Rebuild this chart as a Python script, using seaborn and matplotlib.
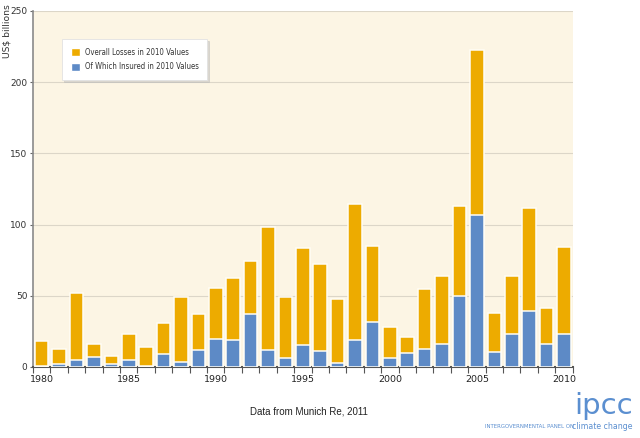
import matplotlib
matplotlib.use("Agg")
import matplotlib.pyplot as plt
from matplotlib.patches import Patch
from matplotlib.font_manager import FontProperties
import seaborn as sns
import pandas as pd
import numpy as np

years = list(range(1980, 2011))
overall = [18, 12.6, 52, 16.4, 7.7, 23.4, 13.8, 31, 49.5, 37.4,
           55.6, 62.6, 74.5, 98.1, 49.3, 83.6, 72.2, 47.9, 114.7, 85,
           28, 20.8, 54.7, 64, 113, 222.4, 38.1, 64, 111.7, 41.4, 84.1]
insured = [0.5, 2.3, 4.7, 6.8, 2.3, 5.1, 0.5, 9.1, 3.7, 12.1,
           19.9, 19.2, 36.9, 11.9, 6.1, 15.4, 11, 3.0, 19.2, 31.8,
           6.3, 10, 12.6, 16.4, 49.8, 107, 10.5, 23.1, 39, 16.4, 23.1]
tick_labels = ["1980", "1985", "1990", "1995", "2000", "2005", "2010"]

df = pd.DataFrame({"year": [str(y) for y in years], "overall": overall, "insured": insured})

sns.set_theme(style="white")
plt.rcParams["font.family"] = ["DejaVu Sans"]

ORANGE = "#EDAB00"
BLUE = "#5D8AC6"
BG = "#FCF5E4"

fig = plt.figure(figsize=(6.4, 4.38), dpi=100)
ax = fig.add_axes([33/640, 1-367/438, 540/640, 356/438])
ax.set_facecolor(BG)

sns.barplot(data=df, x="year", y="overall", color=ORANGE, saturation=1, width=0.78,
            edgecolor="#FFFDF6", linewidth=1.1, ax=ax, zorder=3)
sns.barplot(data=df, x="year", y="insured", color=BLUE, saturation=1, width=0.78,
            edgecolor="#FFFDF6", linewidth=1.1, ax=ax, zorder=4)

ax.set_ylim(0, 250)
ax.set_xlim(-0.42, 30.52)
ax.set_yticks([0, 50, 100, 150, 200, 250])
ax.yaxis.grid(True, color="#DCD6C8", linewidth=0.8, zorder=0)
ax.set_axisbelow(True)

ax.set_xticks([years.index(int(t)) for t in tick_labels])
ax.set_xticklabels(tick_labels)
ax.set_xticks(np.arange(-0.5, 31, 1.0), minor=True)
ax.tick_params(axis="x", which="major", length=0, labelsize=6.8, pad=6, colors="#222222")
ax.tick_params(axis="x", which="minor", bottom=True, length=4, width=0.8, color="#555555", direction="out")
ax.tick_params(axis="y", which="major", left=True, length=2.5, width=0.8, color="#666666",
               labelsize=6.5, pad=1.5, labelcolor="#333333")

ax.set_xlabel("")
ax.set_ylabel("")
for s in ["top", "right"]:
    ax.spines[s].set_visible(False)
ax.spines["left"].set_color("#8A8A8A")
ax.spines["left"].set_linewidth(1.2)
ax.spines["bottom"].set_color("#555555")
ax.spines["bottom"].set_linewidth(1.5)

fig.text(7/640, 1-31/438, "US$ billions", rotation=90, ha="center", va="center",
         fontsize=6.6, color="#333333")

handles = [Patch(facecolor=ORANGE, edgecolor="white", label="Overall Losses in 2010 Values"),
           Patch(facecolor=BLUE, edgecolor="white", label="Of Which Insured in 2010 Values")]
legprop = FontProperties(family="DejaVu Sans", stretch="condensed", size=5.6)
leg = ax.legend(handles=handles, loc="upper left", bbox_to_anchor=(29/540, 1-28/356),
                frameon=True, fancybox=False,
                shadow={"color": "#BBBBBB", "alpha": 0.5, "ox": 1.5, "oy": -1.5},
                handlelength=1.2, handleheight=1.2, borderpad=1.1, labelspacing=0.75,
                handletextpad=0.6, borderaxespad=0, prop=legprop)
leg.get_frame().set_facecolor("white")
leg.get_frame().set_edgecolor("#E2E2E2")
leg.get_frame().set_linewidth(0.6)
for t in leg.get_texts():
    t.set_color("#333333")

fig.text(250/640, 1-412/438, "Data from Munich Re, 2011", ha="left", va="center",
         fontsize=7, color="#222222", family=["Liberation Sans", "DejaVu Sans"])
fig.text(633/640, 1-406/438, "ipcc", ha="right", va="center", fontsize=21,
         color="#5B8FD0", family=["DejaVu Sans"])
fig.text(574/640, 1-427/438, "INTERGOVERNMENTAL PANEL ON", ha="right", va="center",
         color="#5B8FD0", fontproperties=FontProperties(family="DejaVu Sans", stretch="condensed", size=4.3))
fig.text(633/640, 1-426.5/438, "climate change", ha="right", va="center",
         color="#5B8FD0", fontproperties=FontProperties(family="DejaVu Sans", stretch="condensed", size=6.2))

fig.savefig("out.png", dpi=100)
